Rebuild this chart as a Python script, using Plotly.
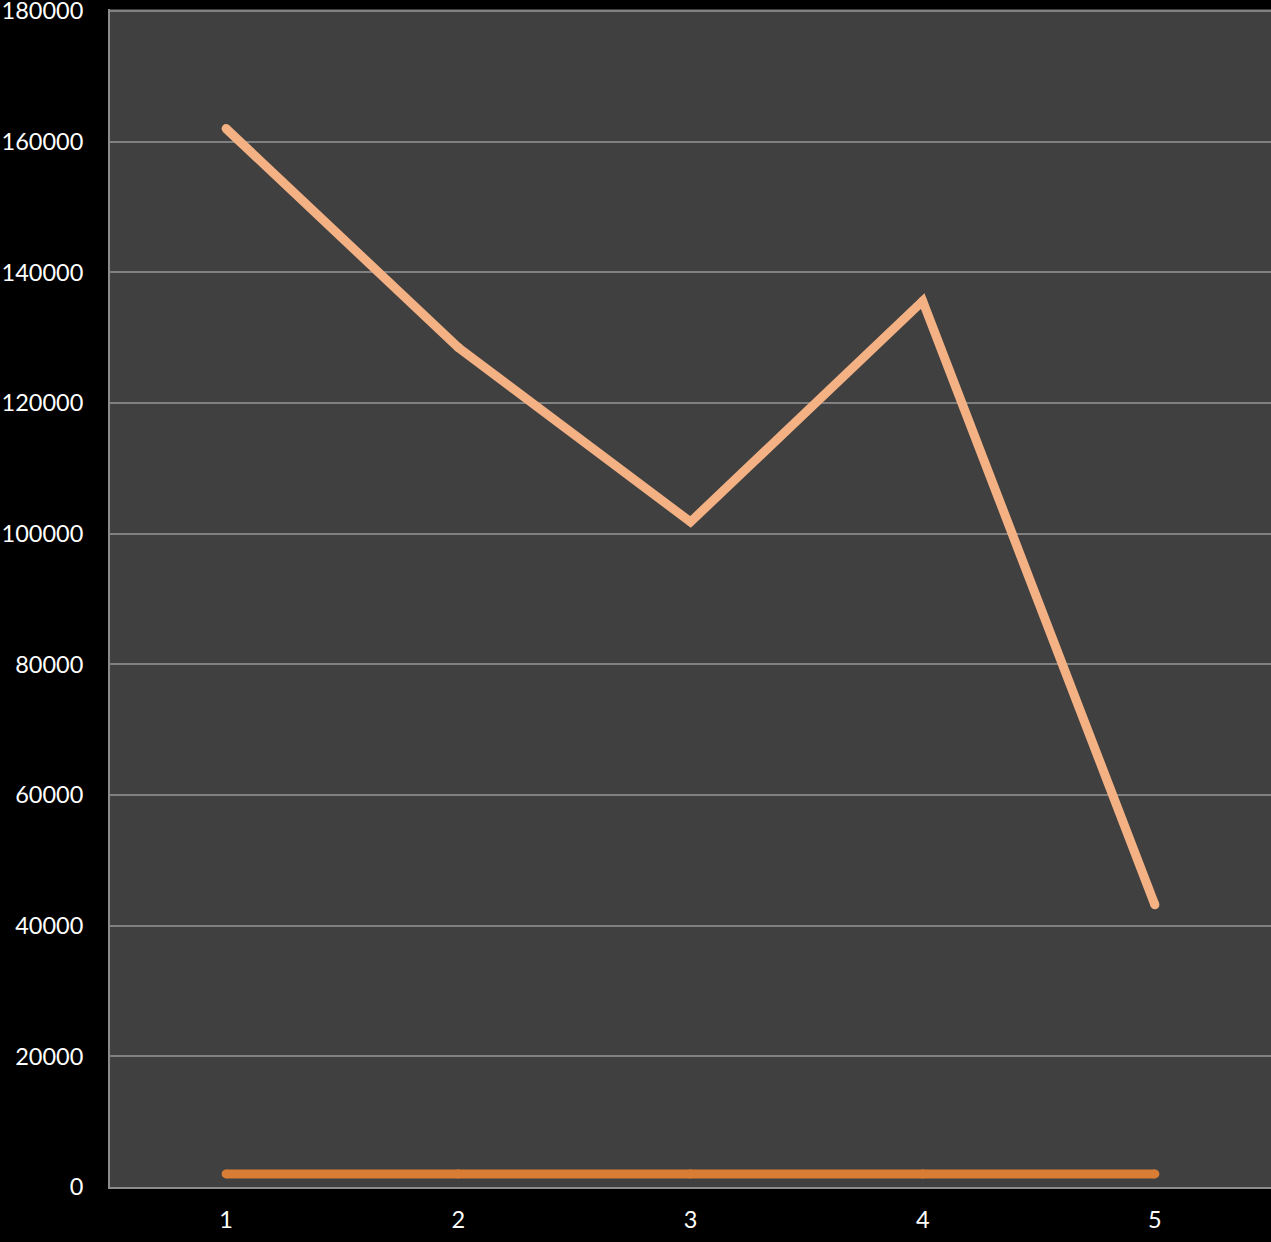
"""Two-series line chart on a dark plot area."""

import plotly.graph_objects as go

categories = ["1", "2", "3", "4", "5"]
series_a = [162000, 128500, 101800, 135600, 43200]
series_b = [2000, 2000, 2000, 2000, 2000]
y_ticks = [0, 20000, 40000, 60000, 80000, 100000, 120000, 140000, 160000, 180000]

fig = go.Figure()

fig.add_trace(
    go.Scatter(
        x=categories,
        y=series_a,
        mode="lines+markers",
        line=dict(color="#F4B183", width=9),
        marker=dict(color="#F4B183", size=9),
        showlegend=False,
    )
)
fig.add_trace(
    go.Scatter(
        x=categories,
        y=series_b,
        mode="lines+markers",
        line=dict(color="#D97D35", width=9),
        marker=dict(color="#D97D35", size=9),
        showlegend=False,
    )
)

fig.update_layout(
    width=1271,
    height=1242,
    margin=dict(l=110, r=0, t=9, b=55),
    paper_bgcolor="#000000",
    plot_bgcolor="#404040",
    font=dict(family="Lato", size=23.5, color="#FFFFFF"),
    xaxis=dict(
        type="category",
        range=[-0.5, 4.5],
        showgrid=False,
        showline=True,
        linecolor="#8C8C8C",
        linewidth=2,
        ticks="",
        ticklabelstandoff=11,
        automargin=False,
    ),
    yaxis=dict(
        range=[0, 180310],
        tickvals=y_ticks,
        ticktext=[str(v) for v in y_ticks],
        showgrid=True,
        gridcolor="#808080",
        gridwidth=2,
        zeroline=False,
        showline=True,
        linecolor="#8C8C8C",
        linewidth=2,
        ticks="",
        ticklabelstandoff=20,
        ticklabeloverflow="allow",
        automargin=False,
    ),
)

fig.write_html(
    "out.html",
    config={"displayModeBar": False},
    post_script="document.body.style.margin='0';document.body.style.background='#000';",
)
